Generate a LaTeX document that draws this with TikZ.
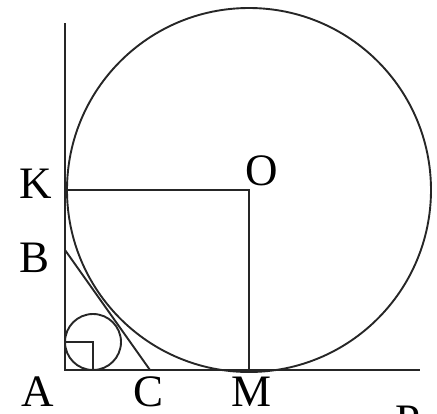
\documentclass[tikz,border=0pt]{standalone}
\usepackage{fontspec}
\setmainfont{Liberation Serif}
\begin{document}
\begin{tikzpicture}[x=1pt,y=-1pt,
  ln/.style={line width=1.9pt,draw=black!85},
  lbl/.style={inner sep=0pt,font=\fontsize{45}{50}\selectfont}]
\useasboundingbox (0,0) rectangle (437,413);
% points
\coordinate (A) at (65,370);
\coordinate (Ytop) at (65,23);
\coordinate (Xend) at (420,370);
\coordinate (Bp) at (65,250);
\coordinate (Cp) at (150,370);
\coordinate (Kp) at (65,190);
\coordinate (Op) at (249,190);
\coordinate (Mp) at (249,370);
\coordinate (I) at (93,342);
\coordinate (Ix) at (93,370);
\coordinate (Iy) at (65,342);
% axes
\draw[ln] (Ytop) -- (A) -- (Xend);
% big circle
\draw[ln] (Op) circle[radius=182];
% tangent BC
\draw[ln] (Bp) -- (Cp);
% K-O-M
\draw[ln] (Kp) -- (Op) -- (Mp);
% small circle and square
\draw[ln] (I) circle[radius=28];
\draw[ln] (Iy) -- (I) -- (Ix);
% labels
\node[lbl] (K) at (36,184) {K};
\node[lbl] (O) at (262,171) {O};
\node[lbl] (B) at (35,258) {B};
\node[lbl] (Al) at (38,392) {A};
\node[lbl] (C) at (149,392) {C};
\node[lbl] (M) at (252,392) {M};
\node[lbl,anchor=north] (P) at (408,406) {P};
\end{tikzpicture}
\end{document}
